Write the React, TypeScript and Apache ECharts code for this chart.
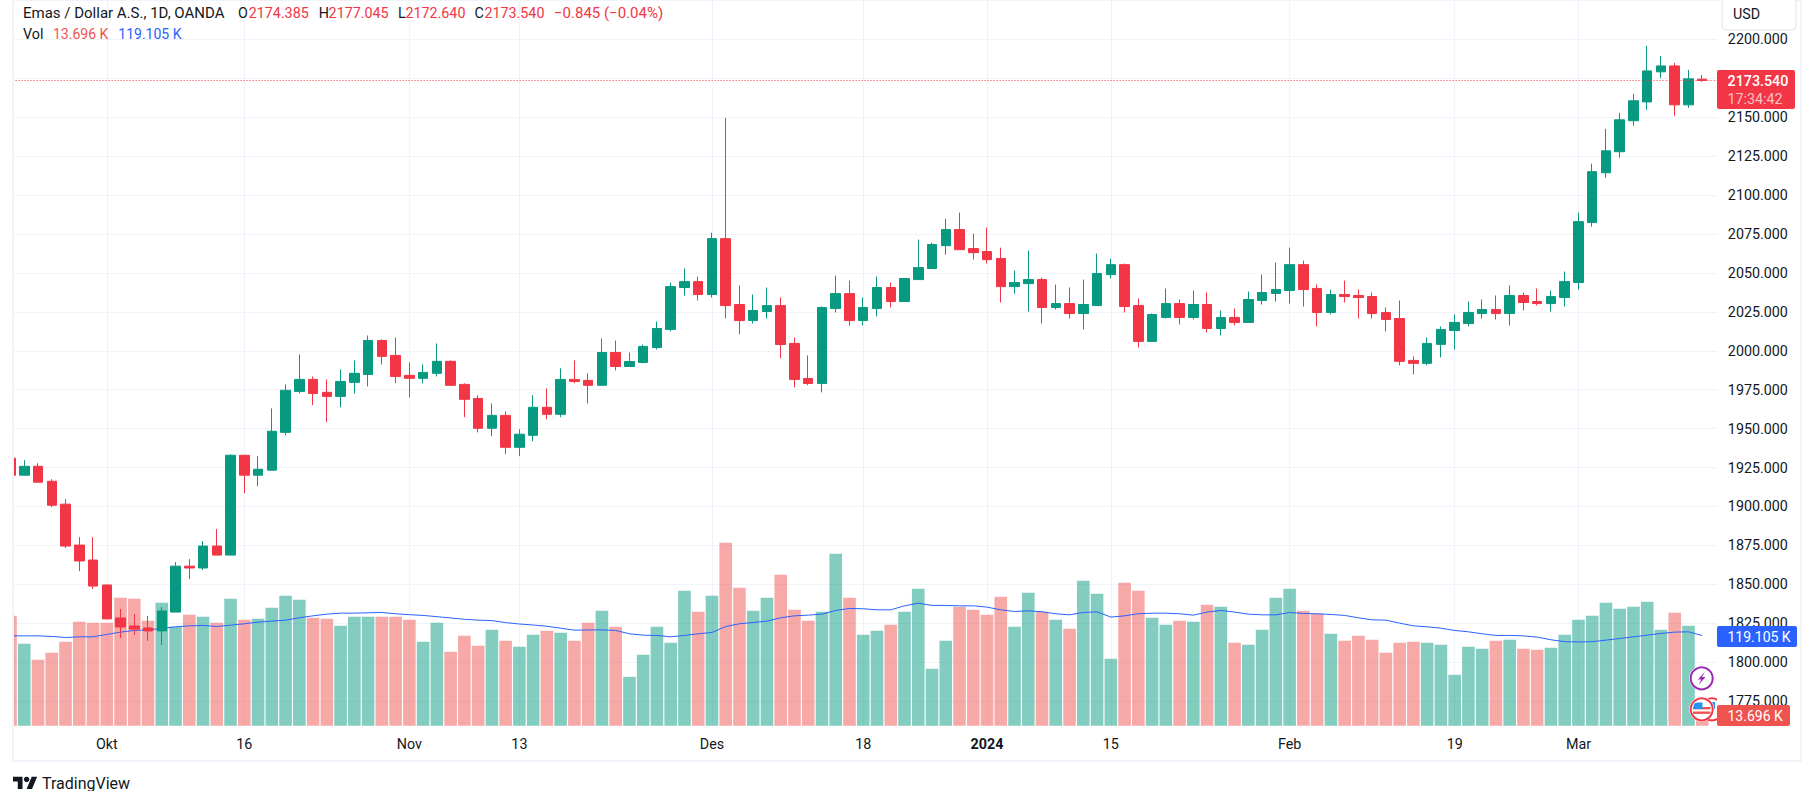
import React, { useEffect, useRef } from "react";
import * as echarts from "echarts";

// Daily gold candles (index 0 is the partly clipped one at the left edge)
const opens = [1931,1920.1,1925.8,1916.2,1901.5,1875.2,1865.6,1849.6,1828.4,1823.3,1822,1820.1,1832.2,1861.7,1860.5,1874.6,1868.8,1932.9,1920.1,1923.3,1947.6,1973.9,1981.6,1973.3,1970.7,1979.7,1984.8,2006.6,1997,1984.2,1982.3,1985.5,1993.2,1978.4,1969.4,1950.2,1958.5,1938,1945.7,1963.7,1959.2,1981.6,1981,1977.8,1998.9,1989.9,1992.5,2002.1,2013.7,2040.6,2044.4,2036.1,2072,2029.7,2019.4,2025.2,2029,2004.7,1982.2,1979,2027.1,2036.7,2019.4,2027.1,2040.6,2031.6,2045.7,2052.8,2067.5,2077.8,2065.6,2063.7,2059.2,2041.2,2043.1,2045.7,2027.8,2030.3,2023.9,2029,2048.9,2055.3,2029,2006,2021.4,2030.3,2021.4,2029.7,2014.3,2021.4,2018.2,2032.3,2036.8,2038.7,2055.3,2040,2024.6,2036.1,2035.5,2034.8,2024.6,2020.7,1993.8,1991.9,2004.1,2013,2017.5,2023.9,2026.5,2023.9,2035.5,2031.6,2030.3,2034.2,2043.8,2082.3,2114.3,2127.8,2147.7,2159.8,2179.1,2182.9,2157.9,2174.385];
const closes = [1920.1,1925.8,1915.6,1900.8,1874.6,1865,1848.9,1827.8,1822.6,1821.3,1820.1,1832.9,1861.7,1860.5,1874.6,1868.8,1932.9,1920.1,1923.9,1948.3,1974.6,1981.6,1972.6,1970.7,1980.3,1985.5,2006.6,1996.4,1983.5,1982.3,1986.1,1993.2,1977.8,1968.8,1950.2,1958.5,1938,1946.4,1963.7,1959.2,1981.6,1980.3,1977.8,1998.9,1989.9,1993.1,2002.8,2014.3,2041.2,2044.4,2036.1,2072,2029,2019.4,2025.8,2029,2004,1981.6,1979,2027.8,2036.7,2019.4,2027.8,2040.6,2031.6,2046.4,2053.4,2068.2,2077.8,2064.9,2063,2058.5,2041.2,2043.8,2045.7,2027.8,2030.3,2023.9,2029.7,2049.6,2055.3,2028.4,2006,2023.3,2030.3,2021.4,2029.7,2014.3,2021.4,2018.2,2032.9,2037.4,2039.3,2055.3,2039.3,2024.6,2036.1,2034.8,2034.2,2023.9,2020.1,1993.2,1991.9,2004.7,2013.7,2018.2,2024.6,2026.5,2023.9,2035.5,2031,2030.3,2034.8,2044.4,2082.9,2115,2128.4,2148.3,2160.5,2179.7,2182.9,2157.9,2174.6,2173.54];
const lows = [1919.5,1920.1,1915.6,1899.6,1873.3,1858.5,1847,1827.8,1815.6,1817.5,1813.7,1811.1,1832.2,1853.4,1859.2,1868.8,1868.8,1908.5,1913,1923.3,1945.7,1972.6,1965,1954.1,1963.7,1972.6,1977.1,1991.2,1979.1,1970.1,1979.1,1983.5,1977.8,1957.3,1947.6,1945.1,1933.5,1932.3,1941.9,1956,1957.3,1979.1,1966.2,1977.8,1987.4,1989.9,1991.9,2000.8,2012.4,2035.5,2032.3,2034.2,2020.7,2010.5,2017.5,2020.7,1995.1,1976.5,1977.8,1973.3,2024.6,2016.2,2016.2,2022,2027.8,2031.6,2045.7,2052.8,2061.7,2064.9,2058.5,2056,2031,2036.7,2025.2,2017.5,2026.5,2020.7,2013.7,2029,2046.4,2024.6,2002.1,2006,2020.7,2016.9,2020.1,2011.7,2009.8,2016.2,2018.2,2029.7,2031.6,2030.3,2028.4,2015.6,2023.3,2031,2020.7,2020.7,2012.4,1990.6,1984.8,1990.6,1995.7,2000.8,2015.6,2020.7,2020.1,2016.2,2025.9,2029.1,2025.2,2028.4,2039.3,2079.7,2111.1,2123.9,2144.5,2154.7,2175.2,2150.9,2156,2172.64];
const highs = [1932,1929.7,1927.8,1917.5,1904.7,1880.3,1880.3,1849.6,1834.2,1831,1829.7,1835.4,1864.3,1866.2,1877.8,1885.5,1933.5,1932.9,1932.3,1963,1978.4,1997.6,1983.5,1981.6,1988,1993.8,2009.8,2007.3,2008.5,1992.5,1991.2,2004.7,1993.8,1979.1,1971.4,1966.2,1961.1,1949.6,1971.4,1975.8,1988.7,1993.8,1985.5,2007.9,2006.6,1998.9,2004,2018.8,2043.8,2052.8,2047.6,2075.8,2149.6,2041.9,2036.1,2040.6,2034.2,2008.5,1997,2028.4,2048.3,2045.1,2034.2,2047.6,2043.8,2046.4,2071.4,2069.4,2084.8,2088.7,2075.2,2079.1,2066.2,2051.5,2064.3,2047,2042.5,2040.6,2045.7,2062.4,2059.2,2056,2033.5,2023.9,2039.9,2032.9,2038.7,2037.4,2025.9,2027.1,2038,2048.9,2056.6,2066.2,2057.9,2042.5,2039.3,2045.1,2039.3,2037.4,2027.8,2032.3,1996.4,2008.5,2015.6,2023.3,2031.6,2032.9,2035.5,2041.9,2037.4,2040,2038.7,2050.9,2088.7,2120.1,2142.5,2152.8,2165,2195.7,2189.3,2184.8,2180.4,2177.045];

// Volume (thousands) and its moving average (thousands)
const volumes = [145.1,108.2,87.1,96.3,110.8,137.2,135.9,135.9,168.9,167.5,138.5,162.3,130.6,146.4,143.8,135.9,167.5,139.8,141.2,155.7,171.5,166.2,142.5,141.2,131.9,143.8,143.8,143.8,143.8,139.8,110.8,135.9,97.6,118.7,105.5,126.6,112.1,104.2,120.1,125.3,122.7,112.1,135.9,151.7,130.6,64.6,93.7,130.6,109.5,178.1,150.4,171.5,241.4,182.1,151.7,168.9,199.2,153,138.5,150.4,226.9,168.9,120.1,125.3,133.2,150.4,180.7,75.2,112.1,157,153,146.4,170.2,130.6,175.5,150.4,139.8,128,191.3,174.1,88.4,188.7,178.1,142.5,133.2,138.5,137.2,159.6,157,109.5,106.9,126.6,168.9,180.7,151.7,147.8,121.4,112.1,118.7,113.5,96.3,109.5,110.8,109.5,106.9,67.3,104.2,101.6,112.1,113.5,101.6,100.3,102.9,120.1,139.8,145.1,162.3,154.4,157,163.6,126.6,149.1,131.9,13.696];
const volumeMA = [118.7,118.7,118.7,117.9,116.5,117.4,117.4,120.5,123.6,125.8,126.6,128.4,130.6,131.9,132.4,131,132.8,134.6,136.8,138.1,139.4,142.5,145.1,147.3,148.6,148.6,149.1,149.5,147.8,146.6,145.6,144,142.3,140.5,139.4,138.8,136.1,134.3,133,131.3,128.8,126.2,126.4,126.6,125.8,121.4,119.6,119.2,117.4,119.2,121.4,123.1,131,134.6,136.3,138.1,142.5,145.1,146,147.3,152.2,154.8,154.4,153,153,158.3,161.8,158.8,158.8,158.3,158.3,156.6,153,150.8,151.7,150.4,147.8,146.4,149.5,150.4,143.4,145.1,147.8,148.6,148.6,147.8,146,150,152.2,150,147.3,146.4,146.4,149.5,148.2,147.8,146.9,145.6,142.5,139.8,139.4,135.4,131.9,130.6,128.8,125.8,124,121.4,119.2,119.2,118.7,117,113.5,111,110.6,111,113,115.2,117.4,119.6,121.8,123.6,124,119.105];

// Sparse time-axis labels by bar index
const timeTickIndices = [7,17,29,37,51,62,71,80,93,105,114];
const timeTickLabels = ["Okt","16","Nov","13","Des","18","2024","15","Feb","19","Mar"];
const priceTicks = [1775,1800,1825,1850,1875,1900,1925,1950,1975,2000,2025,2050,2075,2100,2125,2150,2175,2200];
const categories = [...opens.map((_, i) => String(i)), ""];

const lastPrice = 2173.54;
const UP = "#089981";
const DOWN = "#f23645";
const FONT = "Roboto, 'Noto Sans', sans-serif";
const TEXT = "#131722";
const SZ = 14.3;

echarts.graphic.registerShape("tvmark", echarts.graphic.extendPath("M14 22H7V11H0V4h14v18zM28 22h-8l7.5-18h8L28 22z", {}) as any);

const t = (text: string, x: number, y: number, fill: string, size = SZ, extra: any = {}) => ({
  type: "text", x, y, z: 100,
  style: { text, fill, font: `${extra.weight || 400} ${size}px ${FONT}`, textVerticalAlign: "middle", textAlign: extra.align || "left", opacity: extra.opacity ?? 1 },
});
const r = (x: number, y: number, w: number, h: number, fill: string, radius = 0, stroke?: string) => ({
  type: "rect", z: 100, shape: { x, y, width: w, height: h, r: radius }, style: { fill, stroke, lineWidth: stroke ? 1 : 0 },
});

export default function App() {
  const ref = useRef<HTMLDivElement>(null);
  useEffect(() => {
    const chart = echarts.init(ref.current!, undefined, { renderer: "svg" });
    const xLabel = (i: number) => {
      const k = timeTickIndices.indexOf(i);
      if (k < 0) return "";
      const s = timeTickLabels[k];
      return s === "2024" ? `{year|${s}}` : s;
    };
    const keep = (i: number) => timeTickIndices.indexOf(i) >= 0;
    chart.setOption({
      animation: false,
      backgroundColor: "#ffffff",
      grid: { left: 3.62, top: 0.8, width: 1719.25, height: 725, containLabel: false },
      xAxis: {
        type: "category",
        data: categories,
        boundaryGap: true,
        axisLine: { show: false },
        axisTick: { show: false },
        axisLabel: {
          interval: (i: number) => keep(i),
          formatter: (_: string, i: number) => xLabel(i),
          color: TEXT, fontFamily: FONT, fontSize: SZ, margin: 11,
          fontWeight: 400,
          rich: { year: { color: TEXT, fontFamily: FONT, fontSize: SZ, fontWeight: 700 } },
        },
        splitLine: { show: true, alignWithLabel: true, interval: (i: number) => keep(i), lineStyle: { color: "#f0f3fa", width: 1 } },
      },
      yAxis: [
        {
          type: "value", position: "right", min: 1759.17, max: 2224.72,
          axisLine: { show: false },
          axisTick: { show: false, customValues: priceTicks },
          axisLabel: { customValues: priceTicks, formatter: (v: number) => v.toFixed(3), color: TEXT, fontFamily: FONT, fontSize: SZ, margin: 5, align: "left" },
          splitLine: { show: true, lineStyle: { color: "#f0f3fa", width: 1 } },
        },
        { type: "value", min: 0, max: 956.5, show: false, splitLine: { show: false } },
      ],
      series: [
        {
          type: "bar", yAxisIndex: 1, barWidth: 12.6, z: 1,
          data: volumes.map((v, i) => ({ value: v, itemStyle: { color: closes[i] < opens[i] ? "rgba(239,83,80,0.5)" : "rgba(8,153,129,0.5)" } })),
        },
        {
          type: "line", yAxisIndex: 1, data: volumeMA, showSymbol: false, z: 2,
          lineStyle: { color: "#2962ff", width: 1 }, itemStyle: { color: "#2962ff" },
        },
        {
          type: "candlestick", yAxisIndex: 0, z: 3, barWidth: 10,
          data: opens.map((o, i) => [o, closes[i], lows[i], highs[i]]),
          itemStyle: { color: UP, color0: DOWN, borderColor: UP, borderColor0: DOWN, borderWidth: 1 },
          markLine: {
            silent: true, symbol: "none", label: { show: false },
            lineStyle: { color: DOWN, type: [1, 2], dashOffset: 2.62, width: 1, opacity: 1 },
            data: [{ yAxis: lastPrice }],
          },
        },
      ],
      graphic: { elements: [
        // frame
        r(0, 0, 12, 791, "#ffffff"),
        r(12, 0, 2, 761, "#f0f3fa"),
        r(1717, 0, 6, 726, "#ffffff"),
        r(12, 0, 1790, 1, "#f0f3fa"),
        r(1800, 0, 2, 762, "#f0f3fa"),
        r(12, 760, 1790, 2, "#f0f3fa"),
        // currency box
        r(1722, -4, 74, 34, "#ffffff", 4, "#e0e3eb"),
        t("USD", 1733, 14, TEXT),
        // legend
        t("Emas / Dollar A.S., 1D, OANDA", 23, 13, TEXT, 15),
        t("O", 238, 13, TEXT), t("2174.385", 248.7, 13, DOWN),
        t("H", 318.7, 13, TEXT), t("2177.045", 328.6, 13, DOWN),
        t("L", 398, 13, TEXT), t("2172.640", 405.4, 13, DOWN),
        t("C", 474.6, 13, TEXT), t("2173.540", 484.4, 13, DOWN),
        t("\u22120.845 (\u22120.04%)", 554, 13, DOWN, 15),
        t("Vol", 23, 34, TEXT),
        t("13.696 K", 53, 34, "#ef5350", 14),
        t("119.105 K", 118.3, 34, "#2962ff", 14),
        // price tags
        r(1717, 70, 78, 39, DOWN, 2),
        t("2173.540", 1727.5, 81, "#ffffff", SZ, { weight: 500 }),
        t("17:34:42", 1727.5, 99, "#ffffff", SZ, { opacity: 0.7 }),
        r(1717, 626, 80, 21, "#2962ff", 2),
        t("119.105 K", 1727.5, 636.5, "#ffffff", 14),
        r(1717, 705, 73, 21, "#ef5350", 2),
        t("13.696 K", 1727.5, 715.5, "#ffffff", 14),
        // event badges
        { type: "circle", z: 101, shape: { cx: 1701.7, cy: 678.3, r: 12.5 }, style: { fill: "#ffffff" } },
        { type: "circle", z: 102, shape: { cx: 1701.7, cy: 678.3, r: 11 }, style: { fill: "#ffffff", stroke: "#9c27b0", lineWidth: 2 } },
        { type: "polygon", z: 103, shape: { points: [[1705, 671.5], [1698, 679.5], [1701.3, 679.5], [1698.5, 685], [1705.5, 677], [1702, 677]] }, style: { fill: "#9c27b0" } },
        { type: "circle", z: 99, shape: { cx: 1712, cy: 709.3, r: 11 }, style: { fill: "#ffffff", stroke: DOWN, lineWidth: 2 } },
        { type: "rect", z: 99, shape: { x: 1707, y: 702, width: 8, height: 7 }, style: { fill: "#2196f3" } },
        { type: "circle", z: 102, shape: { cx: 1701.7, cy: 709.3, r: 12.5 }, style: { fill: "#ffffff" } },
        { type: "circle", z: 103, shape: { cx: 1701.7, cy: 709.3, r: 11 }, style: { fill: "#ffffff", stroke: DOWN, lineWidth: 2 } },
        { type: "rect", z: 104, shape: { x: 1693, y: 707, width: 17.5, height: 2.4 }, style: { fill: "#ef5350" } },
        { type: "rect", z: 104, shape: { x: 1693, y: 711.5, width: 17.5, height: 2.4 }, style: { fill: "#ef5350" } },
        { type: "rect", z: 105, shape: { x: 1693.5, y: 702.5, width: 9, height: 6.5, r: [4, 0, 0, 0] }, style: { fill: "#2196f3" } },
        // attribution
        { type: "tvmark", z: 100, x: 13, y: 774, scaleX: 0.68, scaleY: 0.68, style: { fill: TEXT } },
        { type: "circle", z: 100, shape: { cx: 13 + 20 * 0.68, cy: 774 + 8 * 0.68, r: 4 * 0.68 }, style: { fill: TEXT } },
        t("TradingView", 42, 783, TEXT, 16),
      ] },
    });
    return () => chart.dispose();
  }, []);
  return <div ref={ref} style={{ position: "fixed", left: 0, top: 0, width: 1815, height: 791 }} />;
}
